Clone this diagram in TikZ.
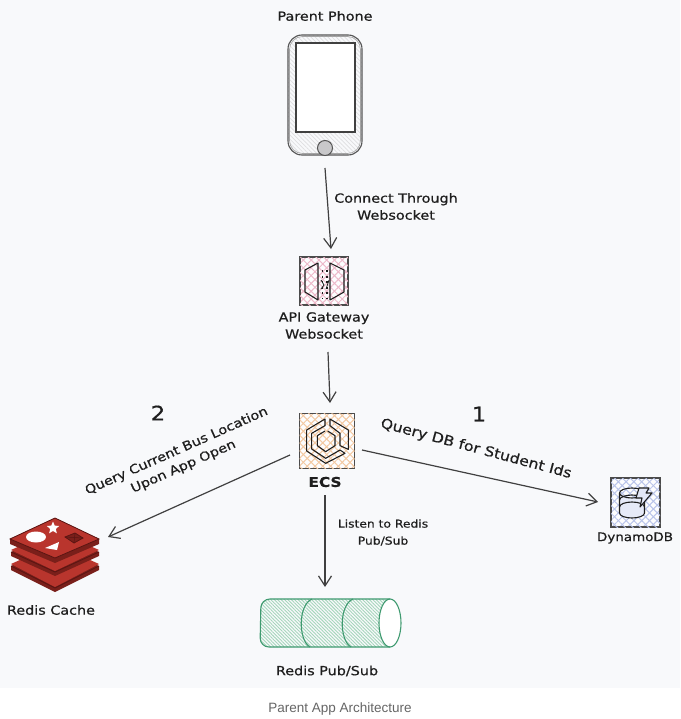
\documentclass[tikz,border=0pt]{standalone}
\usepackage{fontspec}
\setmainfont[FakeStretch=1.14,FakeBold=0.6]{DejaVu Sans}
\newfontfamily\capfont{Liberation Sans}
\usetikzlibrary{arrows.meta,patterns.meta,shapes.geometric}
\definecolor{pagebg}{HTML}{F8F9FB}
\definecolor{ink}{HTML}{1E1E1E}
\definecolor{hatchgrey}{HTML}{DEDEE0}
\definecolor{gwhatch}{HTML}{EDB9CA}
\definecolor{ecshatch}{HTML}{F3C9A2}
\definecolor{dbhatch}{HTML}{B9C4EA}
\definecolor{psgreen}{HTML}{3F9A70}
\definecolor{pshatch}{HTML}{A5D6BB}
\definecolor{redisA}{HTML}{A8302A}
\definecolor{redisB}{HTML}{B9352D}
\definecolor{redisD}{HTML}{7A1F1A}
\definecolor{redisE}{HTML}{5A1512}
\tikzset{
  x=1pt,y=-1pt,
  lbl/.style={font=\fontsize{12.6}{17}\selectfont,text=ink,align=center,inner sep=0pt},
  flow/.style={draw=ink!85,line width=1.2pt,-{Straight Barb[length=10pt,width=13pt,line width=1.2pt]}},
  iconbox/.style={draw=ink!80,line width=1.3pt,minimum width=#1,minimum height=#1,inner sep=0pt,outer sep=0pt},
  cross/.style={preaction={fill=white!70!pagebg},
    preaction={pattern={Lines[angle=45,distance=5.5pt,line width=1pt]},pattern color=#1},
    postaction={pattern={Lines[angle=-45,distance=5.5pt,line width=1pt]},pattern color=#1}},
  glyph/.style={draw=ink,line width=1.1pt,line join=round},
  hatchg/.style={pattern={Lines[angle=-45,distance=3pt,line width=.7pt]},pattern color=hatchgrey},
  hatchp/.style={pattern={Lines[angle=-45,distance=2.4pt,line width=.9pt]},pattern color=pshatch},
}
\begin{document}
\begin{tikzpicture}
\useasboundingbox (0,0) rectangle (680,719);
\fill[white] (0,0) rectangle (680,719);
\fill[pagebg] (0,0) rectangle (680,688);

% phone
\node[minimum width=74pt,minimum height=120pt,inner sep=0pt,outer sep=0pt,rounded corners=14pt,draw=ink!75,line width=1.1pt,hatchg] (phone) at (325,95) {};
\draw[rounded corners=13pt,draw=ink!40,line width=.6pt] (289.5,36.5) rectangle (360.5,153.5);
\fill[white] (296,43) rectangle (355,132);
\draw[ink!85,line width=1.4pt] (296,43) rectangle (355,132);
\fill[hatchgrey!90!black] (325,148) circle (7.5);
\draw[ink!75,line width=1pt] (325,148) circle (7.5);
\node[lbl] (phonelbl) at (325,16) {Parent Phone};

% API gateway
\node[iconbox=48pt,cross=gwhatch] (gw) at (324,281) {};
\draw[glyph] (305,270) -- (318,263) -- (318,300) -- (305,292) -- cycle;
\draw[glyph] (330,263) -- (344,270) -- (344,292) -- (330,300) -- cycle;
\draw[glyph,dash pattern=on 2pt off 3.5pt] (322.5,270) -- (322.5,298);
\draw[glyph,dash pattern=on 2pt off 3.5pt] (327,270) -- (327,298);
\draw[glyph,line width=.8pt] (321,280) -- (324,285) -- (321,289) (329,280) -- (326,289);
\node[lbl] (gwlbl) at (324,325.5) {API Gateway\\Websocket};

% ECS
\node[iconbox=55pt,cross=ecshatch] (ecs) at (327,441) {};
\begin{scope}[shift={(285,405)},x=.3333pt,y=-.3333pt]
\draw[glyph] (120,42) -- (65,75) -- (65,138) -- (122,175) -- (180,145) -- (165,135) -- (122,160) -- (80,132) -- (80,85) -- (120,62) -- cycle;
\draw[glyph] (135,42) -- (190,75) -- (190,133) -- (165,122) -- (165,85) -- (135,62) -- cycle;
\draw[glyph] (120,78) -- (97,92) -- (97,122) -- (122,140) -- (150,122) -- (150,92) -- (128,78);
\end{scope}
\node[lbl,font=\fontsize{13.5}{15}\selectfont\bfseries] (ecslbl) at (325,482) {ECS};

% DynamoDB
\node[iconbox=49pt,cross=dbhatch] (db) at (635.5,502.5) {};
\draw[glyph,fill=white!65!dbhatch] (619.5,493) arc[start angle=180,end angle=0,x radius=12.5,y radius=5] -- (644.5,513) arc[start angle=0,end angle=180,x radius=12.5,y radius=5] -- cycle;
\draw[glyph] (619.5,493) arc[start angle=180,end angle=360,x radius=12.5,y radius=5];
\draw[glyph] (619.5,500) arc[start angle=180,end angle=360,x radius=12.5,y radius=5];
\draw[glyph] (619.5,507) arc[start angle=180,end angle=360,x radius=12.5,y radius=5];
\draw[glyph,fill=white!60!dbhatch] (639,488) -- (649,488) -- (646,493) -- (652,493) -- (640,507) -- (642,498) -- (636,498) -- cycle;
\node[lbl,font=\fontsize{11.8}{15}\selectfont] (dblbl) at (635,538) {DynamoDB};

% Redis Cache
\node[minimum width=90pt,minimum height=74pt,inner sep=0pt,outer sep=0pt] (redis) at (55,555) {};
\fill[redisD] (11,566) -- (55,546) -- (99,566) -- (99,570) -- (55,592) -- (11,570) -- cycle;
\fill[redisB] (11,564) -- (55,544) -- (99,564) -- (55,587) -- cycle;
\draw[redisE,line width=.8pt] (11,566) -- (55,588) -- (99,566);
\fill[redisD] (11,552) -- (55,532) -- (99,552) -- (99,556) -- (55,576) -- (11,556) -- cycle;
\fill[redisB] (11,550) -- (55,530) -- (99,550) -- (55,571) -- cycle;
\draw[redisE,line width=.8pt] (11,552) -- (55,572) -- (99,552);
\fill[redisD] (10,539) -- (55,518) -- (99,539) -- (99,544) -- (55,563) -- (10,544) -- cycle;
\fill[redisB] (10,539) -- (55,518) -- (99,539) -- (55,558) -- cycle;
\draw[redisE,line width=.8pt] (10,539) -- (55,518) -- (99,539) -- (55,558) -- cycle;
\fill[white] (36,537) ellipse[x radius=10,y radius=5.5];
\node[star,star points=5,star point ratio=2.2,fill=white,minimum size=13pt,inner sep=0pt] (redisstar) at (53,528) {};
\fill[white] (45,548) -- (59,542) -- (57,550) -- cycle;
\draw[redisE,fill=redisD,line width=.8pt] (65,537) -- (75,533) -- (83,538) -- (74,543) -- cycle;
\draw[redisE,line width=.5pt] (65,537) -- (83,538) (75,533) -- (74,543);
\node[lbl] (redislbl) at (51,610) {Redis Cache};

% Redis Pub/Sub
\node[minimum width=140pt,minimum height=48pt,inner sep=0pt,outer sep=0pt] (ps) at (330,623) {};
\path[hatchp,rounded corners=9pt] (260,599) -- (390,599) -- (390,647) -- (260,647) -- cycle;
\fill[white] (390,623) ellipse[x radius=11,y radius=24];
\draw[psgreen,line width=1.1pt,rounded corners=9pt] (390,599) -- (261,599) -- (260,647) -- (390,647);
\draw[psgreen,line width=1.1pt] (390,623) ellipse[x radius=11,y radius=24];
\draw[psgreen,line width=1.1pt] (312,599) .. controls (298,605) and (298,640) .. (310,647);
\draw[psgreen,line width=1.1pt] (353,599) .. controls (339,605) and (339,640) .. (351,647);
\node[lbl] (pslbl) at (327,671) {Redis Pub/Sub};

% connectors
\coordinate (a1) at (325,168);
\coordinate (a2) at (331,249);
\draw[flow] (a1) -- (a2);
\coordinate (b1) at (328,352);
\coordinate (b2) at (330,403);
\draw[flow] (b1) -- (b2);
\coordinate (c1) at (290,455);
\coordinate (c2) at (108,537);
\draw[flow] (c1) -- (c2);
\coordinate (d1) at (362,450);
\coordinate (d2) at (598,502);
\draw[flow] (d1) -- (d2);
\coordinate (e1) at (325,495);
\coordinate (e2) at (325,587);
\draw[flow] (e1) -- (e2);

% labels
\node[lbl] (t1) at (396,206.5) {Connect Through\\Websocket};
\node[lbl,rotate=24] (t2) at (180,459) {Query Current Bus Location\\Upon App Open};
\node[lbl,rotate=-15,font=\fontsize{13.8}{17}\selectfont] (t3) at (476,449) {Query DB for Student Ids};
\node[lbl,font=\fontsize{10.8}{17}\selectfont] (t4) at (383,532.5) {Listen to Redis\\Pub/Sub};
\node[lbl,font=\fontsize{20}{22}\selectfont] (n2) at (158,413) {2};
\node[lbl,font=\fontsize{20}{22}\selectfont] (n1) at (479,414) {1};
\node[font=\capfont\fontsize{13.5}{15}\selectfont,text=black!60,inner sep=0pt] (cap) at (340,709) {Parent App Architecture};
\end{tikzpicture}
\end{document}
